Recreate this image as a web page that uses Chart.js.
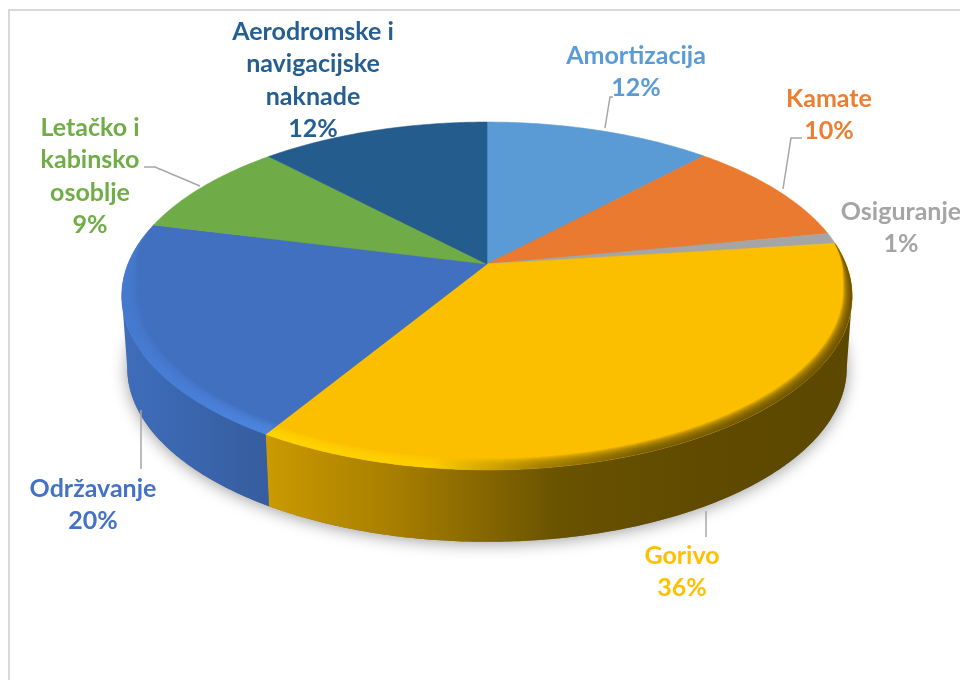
<!DOCTYPE html>
<html>
<head>
<meta charset="utf-8">
<title>Struktura troškova</title>
<script src="https://cdn.jsdelivr.net/npm/chart.js@4/dist/chart.umd.min.js"></script>
<style>
  html, body { margin: 0; padding: 0; background: #fff; overflow: hidden; }
  canvas { display: block; }
</style>
</head>
<body>
<canvas id="pie" width="960" height="680"></canvas>
<script>
// data (labels show them rounded)
const categories = ['Amortizacija', 'Kamate', 'Osiguranje', 'Gorivo', 'Održavanje', 'Letačko i kabinsko osoblje', 'Aerodromske i navigacijske naknade'];
const shares = [12, 10, 1, 35.7, 20.2, 9, 12.1];

// colours
const faceColors = ['#5b9bd5', '#e97a2f', '#a5a5a5', '#fcbf00', '#4170c0', '#6fab46', '#255c8e'];
const textColors = ['#5b9bd5', '#ed7d31', '#a5a5a5', '#ffc000', '#4472c4', '#70ad47', '#255e91'];
const wallStops = {
  3: [[268, '#cb9a00'], [400, '#a57d00'], [560, '#695200'], [700, '#5f4a00'], [853, '#5d4800']],
  4: [[123, '#3f6dbb'], [180, '#3b67b0'], [268, '#365d9f']]
};
const rimStops = {
  3: [[268, '#ffd800'], [430, '#ffcf00'], [540, '#9a7700'], [640, '#6a5300'], [853, '#5d4800']],
  4: [[123, '#467bd2'], [268, '#4f88e4']]
};
// rim width as a share of the radius: at the side, at the front
const rimWidths = { 3: [0.02, 0.045], 4: [0.04, 0.05] };

// label text and where it sits
const labelLines = [
  ['Amortizacija', '12%'],
  ['Kamate', '10%'],
  ['Osiguranje', '1%'],
  ['Gorivo', '36%'],
  ['Održavanje', '20%'],
  ['Letačko i', 'kabinsko', 'osoblje', '9%'],
  ['Aerodromske i', 'navigacijske', 'naknade', '12%']
];
const labelX = [636, 829, 901, 682, 93, 90, 313];
const labelTop = [56, 99, 212, 556, 489, 128, 32];
const lineStep = 32.4;
const leaders = [
  [[605, 128], [610, 97], [613, 97]],
  [[783, 189], [791, 138], [802, 138]],
  [],
  [[706, 511], [706, 537]],
  [[141, 410], [141, 469]],
  [[200, 186], [155, 167], [144, 167]],
  []
];

// perspective of the disc
const cx = 487, cy = 264, A = 168, B = 359, k = 0.1837;
const depth = 72, bottomScale = 0.985;
const edgeAngle = Math.asin(k); // where the disc is widest on screen

function project(a, r, dy, sx) {
  const u = r * Math.cos(a), v = r * Math.sin(a), d = 1 - k * v;
  return [cx + B * sx * u / d, cy + A * v / d + dy];
}

function hGradient(ctx, stops) {
  const g = ctx.createLinearGradient(123, 0, 853, 0);
  stops.forEach(s => g.addColorStop((s[0] - 123) / 730, s[1]));
  return g;
}

function arcPoints(a0, a1, fn) {
  const n = Math.max(2, Math.ceil(Math.abs(a1 - a0) / 0.01));
  const pts = [];
  for (let i = 0; i <= n; i++) pts.push(fn(a0 + (a1 - a0) * i / n));
  return pts;
}

function tracePoly(ctx, pts) {
  ctx.beginPath();
  pts.forEach((p, i) => i ? ctx.lineTo(p[0], p[1]) : ctx.moveTo(p[0], p[1]));
  ctx.closePath();
}

// rim is only there on the near side of the disc
function rimWeight(a, w) {
  const s = Math.sin(a);
  const t = Math.min(1, Math.max(0, (s + 0.2) / 0.35));
  return t * t * (3 - 2 * t) * (w[0] + (w[1] - w[0]) * Math.max(0, s));
}

// every slice draws itself in perspective from the angles the pie controller gave it
Chart.ArcElement.prototype.draw = function (ctx) {
  const a0 = this.startAngle, a1 = this.endAngle;
  const idx = this.$context ? this.$context.dataIndex : 0;
  const top = arcPoints(a0, a1, a => project(a, 1, 0, 1));
  tracePoly(ctx, [[cx, cy]].concat(top));
  ctx.fillStyle = this.options.backgroundColor;
  ctx.fill();
  ctx.strokeStyle = this.options.backgroundColor;
  ctx.lineWidth = 0.6;
  ctx.stroke();

  const stops = rimStops[idx];
  if (!stops) return;
  ctx.save();
  ctx.fillStyle = hGradient(ctx, stops);
  ctx.globalAlpha = 0.2;
  const layers = 10;
  for (let i = layers; i > 0; i--) {
    const t = i / layers;
    const inner = arcPoints(a1, a0, a => project(a, 1 - t * rimWeight(a, rimWidths[idx]), 0, 1));
    tracePoly(ctx, top.concat(inner));
    ctx.fill();
  }
  ctx.restore();
};

const bodyPlugin = {
  id: 'body',
  beforeDatasetsDraw(chart) {
    const ctx = chart.ctx;
    const arcs = chart.getDatasetMeta(0).data;

    // frame
    ctx.strokeStyle = '#d9d9d9';
    ctx.lineWidth = 2;
    ctx.beginPath();
    ctx.moveTo(9, 680);
    ctx.lineTo(9, 10);
    ctx.lineTo(960, 10);
    ctx.stroke();

    // soft shadow under the disc
    ctx.save();
    ctx.shadowColor = 'rgba(0,0,0,0.38)';
    ctx.shadowBlur = 16;
    ctx.shadowOffsetY = 2;
    ctx.fillStyle = '#777';
    tracePoly(ctx, arcPoints(0, Math.PI * 2, a => project(a, 1, depth, bottomScale)));
    ctx.fill();
    ctx.restore();

    // side wall of each slice, between the two widest points of the disc
    arcs.forEach((arc, i) => {
      const from = Math.max(arc.startAngle, edgeAngle);
      const to = Math.min(arc.endAngle, Math.PI - edgeAngle);
      if (!wallStops[i] || to <= from) return;
      const up = arcPoints(from, to, a => project(a, 1, 0, 1));
      const down = arcPoints(to, from, a => project(a, 1, depth, bottomScale));
      tracePoly(ctx, up.concat(down));
      ctx.fillStyle = hGradient(ctx, wallStops[i]);
      ctx.fill();
    });
  },
  afterDatasetsDraw(chart) {
    const ctx = chart.ctx;
    ctx.strokeStyle = '#a6a6a6';
    ctx.lineWidth = 1.5;
    leaders.forEach(line => {
      if (!line.length) return;
      ctx.beginPath();
      line.forEach((p, i) => i ? ctx.lineTo(p[0], p[1]) : ctx.moveTo(p[0], p[1]));
      ctx.stroke();
    });
    ctx.font = 'bold 25px Lato';
    ctx.textAlign = 'center';
    ctx.textBaseline = 'middle';
    labelLines.forEach((lines, i) => {
      ctx.fillStyle = textColors[i];
      lines.forEach((t, j) => ctx.fillText(t, labelX[i], labelTop[i] + j * lineStep));
    });
  }
};

new Chart(document.getElementById('pie'), {
  type: 'pie',
  data: {
    labels: categories,
    datasets: [{ data: shares, backgroundColor: faceColors, borderWidth: 0 }]
  },
  options: {
    responsive: false,
    animation: false,
    plugins: { legend: { display: false }, tooltip: { enabled: false } }
  },
  plugins: [bodyPlugin]
});
</script>
</body>
</html>
